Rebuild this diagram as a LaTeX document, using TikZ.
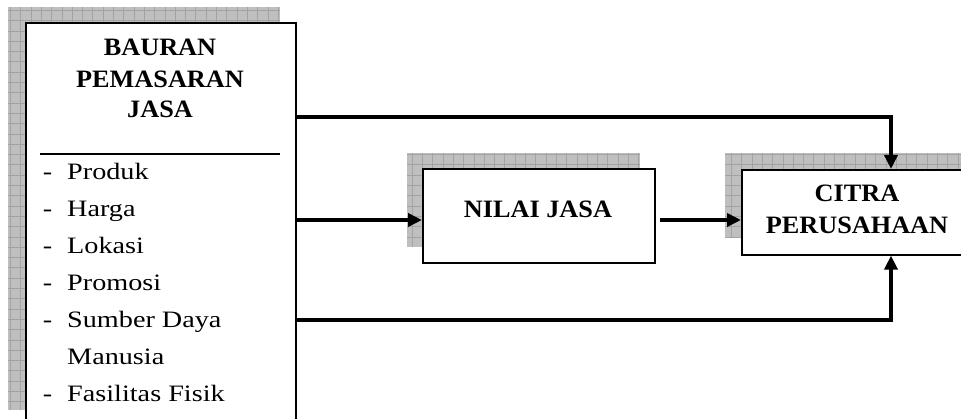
\documentclass[tikz,border=0pt]{standalone}
\usepackage{fontspec}
\setmainfont{Liberation Serif}
\newfontfamily\headfont[FakeStretch=1.05]{Liberation Serif}
\newfontfamily\itemfont[FakeStretch=1.2]{Liberation Serif}
\usetikzlibrary{arrows.meta}

% grey drop shadow with a fine grid texture
\newcommand{\gridshadow}[4]{%
  \begin{scope}
    \clip (#1,#2) rectangle (#3,#4);
    \fill[black!25] (#1,#2) rectangle (#3,#4);
    \draw[black!36, line width=0.6pt, step=10.3pt] (#1,#2) grid (#3,#4);
  \end{scope}}

\begin{document}
\begin{tikzpicture}[x=1pt, y=-1pt,
  frame/.style={draw=black, line width=1.6pt, fill=white, inner sep=0pt, anchor=north west},
  head/.style={font=\headfont\bfseries\fontsize{25}{30}\selectfont, inner sep=0pt, anchor=base},
  item/.style={font=\itemfont\fontsize{23.5}{28}\selectfont, inner sep=0pt, anchor=base west},
  bullet/.style={font=\itemfont\fontsize{23.5}{28}\selectfont, inner sep=0pt, anchor=base},
  arr/.style={line width=4pt, -{Triangle[length=14pt, width=13pt]}},
]
\clip (0,0) rectangle (961,419);
\fill[white] (0,0) rectangle (961,419);

% shadows
\gridshadow{8}{7}{280}{410}
\gridshadow{407}{153}{640}{247}
\gridshadow{725}{153}{975}{238}

% boxes
\node[frame, minimum width=270pt, minimum height=420pt] (mix) at (25,22) {};
\node[frame, minimum width=232pt, minimum height=94pt] (nilai) at (422,168) {};
\node[frame, minimum width=250pt, minimum height=85pt] (citra) at (741,169) {};

% title of the marketing-mix box
\node[head] (t1) at (160,56) {BAURAN};
\node[head] (t2) at (160,88) {PEMASARAN};
\node[head] (t3) at (160,118) {JASA};
\draw[line width=1.6pt] (mix.north west) ++(15,132) coordinate (sepL) -- ++(240,0) coordinate (sepR);

% list of elements
\foreach \name/\yy/\lab in {i1/180/Produk, i2/217/Harga, i3/254/Lokasi, i4/291/Promosi, i5/328/Sumber Daya, i7/402/Fasilitas Fisik}{
  \node[bullet] (\name d) at (47.5,\yy) {-};
  \node[item] (\name) at (67,\yy) {\lab};
}
\node[item] (i6) at (67,365) {Manusia};

% other labels
\node[head] (n1) at (538,218) {NILAI JASA};
\node[head] (c1) at (857,202) {CITRA};
\node[head] (c2) at (857,234) {PERUSAHAAN};

% connectors
\coordinate (jt) at (891,117);
\coordinate (jm) at (0,220);
\coordinate (jb) at (891,320);
\draw[arr] (mix.east |- jt) -- (jt) -- (jt |- citra.north);
\draw[arr] (mix.east |- jm) -- (nilai.west |- jm);
\draw[arr, shorten <=4pt] (nilai.east |- jm) -- (citra.west |- jm);
\draw[arr] (mix.east |- jb) -- (jb) -- (jb |- citra.south);
\end{tikzpicture}
\end{document}
